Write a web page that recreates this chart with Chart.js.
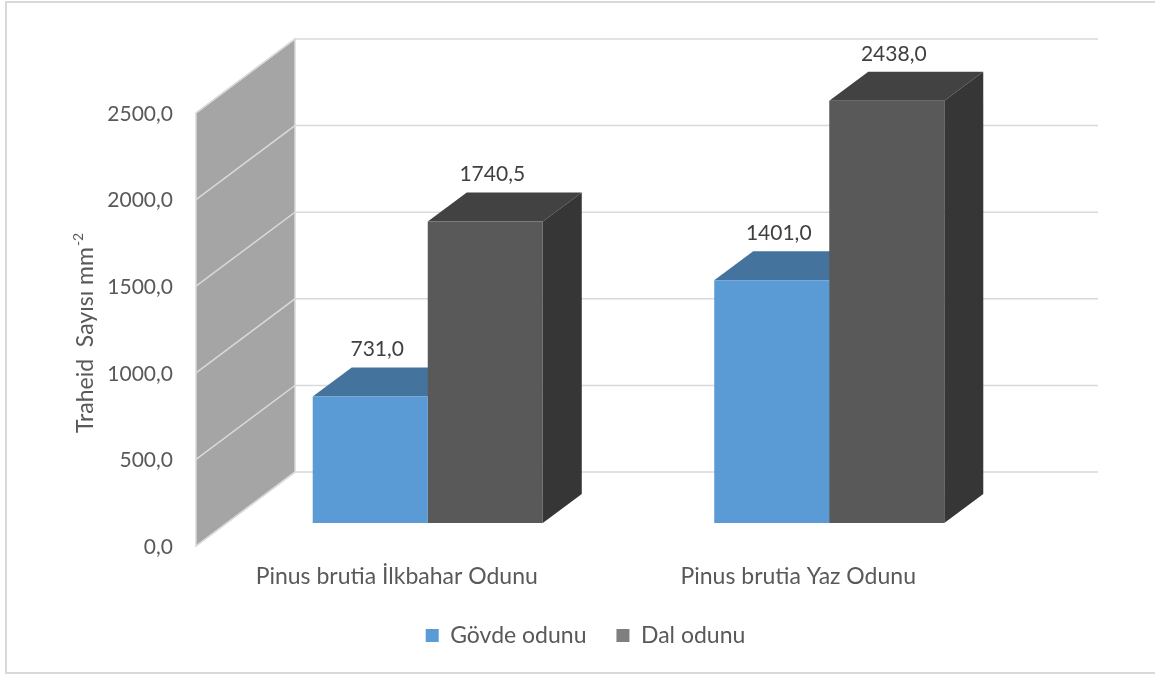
<!DOCTYPE html>
<html>
<head>
<meta charset="utf-8">
<script src="https://cdn.jsdelivr.net/npm/chart.js@4.4.1/dist/chart.umd.min.js"></script>
<style>
html, body { margin: 0; padding: 0; background: #fff; }
#wrap { width: 1155px; height: 677px; }
</style>
</head>
<body>
<div id="wrap"><canvas id="myChart" width="1155" height="677"></canvas></div>
<script>
var categories = ['Pinus brutia İlkbahar Odunu', 'Pinus brutia Yaz Odunu']
var govde_odunu = [731.0, 1401.0]
var dal_odunu = [1740.5, 2438.0]
var yTicks = [0, 500, 1000, 1500, 2000, 2500]
var yTitle = 'Traheid  Sayısı mm'
var yTitleSup = '-2'

// 3d look: offsets from the bar front plane
var barDepth = {dx: 39, dy: -29}
var backWall = {dx: 68, dy: -51}
var frontWall = {dx: -31, dy: 23}

var faceColors = [
    {front: '#5b9bd5', top: '#44739e', side: '#3e6a93'},
    {front: '#595959', top: '#424242', side: '#363636'}
]
var legendColors = ['#5b9bd5', '#7f7f7f']

function fmt(v){
    return v.toFixed(1).replace('.', ',')
}

Chart.defaults.font.family = 'Lato'
Chart.defaults.color = '#595959'

var threeD = {
    id: 'threeD',
    beforeDraw: function(chart){
        var ctx = chart.ctx
        ctx.save()
        ctx.strokeStyle = '#d9d9d9'
        ctx.lineWidth = 2
        ctx.strokeRect(6, 2, 1152, 671)
        ctx.restore()
    },
    beforeDatasetsDraw: function(chart){
        var ctx = chart.ctx
        var area = chart.chartArea
        var y = chart.scales.y
        var y0 = y.getPixelForValue(y.min)
        var y1 = y.getPixelForValue(y.max)
        ctx.save()
        // side wall
        ctx.fillStyle = '#a5a5a5'
        ctx.beginPath()
        ctx.moveTo(area.left + frontWall.dx, y0 + frontWall.dy)
        ctx.lineTo(area.left + frontWall.dx, y1 + frontWall.dy)
        ctx.lineTo(area.left + backWall.dx, y1 + backWall.dy)
        ctx.lineTo(area.left + backWall.dx, y0 + backWall.dy)
        ctx.closePath()
        ctx.fill()
        ctx.strokeStyle = '#d9d9d9'
        ctx.lineWidth = 1.5
        ctx.stroke()
        // grid lines on wall and back
        yTicks.forEach(function(v){
            var py = y.getPixelForValue(v)
            ctx.beginPath()
            ctx.moveTo(area.left + frontWall.dx, py + frontWall.dy)
            ctx.lineTo(area.left + backWall.dx, py + backWall.dy)
            ctx.lineTo(area.right + backWall.dx, py + backWall.dy)
            ctx.stroke()
        })
        // top and side faces of bars
        chart.data.datasets.forEach(function(ds, di){
            var meta = chart.getDatasetMeta(di)
            meta.data.forEach(function(el){
                var p = el.getProps(['x', 'y', 'base', 'width'], true)
                var xl = p.x - p.width / 2
                var xr = p.x + p.width / 2
                ctx.fillStyle = faceColors[di].top
                ctx.beginPath()
                ctx.moveTo(xl, p.y)
                ctx.lineTo(xl + barDepth.dx, p.y + barDepth.dy)
                ctx.lineTo(xr + barDepth.dx, p.y + barDepth.dy)
                ctx.lineTo(xr, p.y)
                ctx.closePath()
                ctx.fill()
                ctx.fillStyle = faceColors[di].side
                ctx.beginPath()
                ctx.moveTo(xr, p.y)
                ctx.lineTo(xr + barDepth.dx, p.y + barDepth.dy)
                ctx.lineTo(xr + barDepth.dx, p.base + barDepth.dy)
                ctx.lineTo(xr, p.base)
                ctx.closePath()
                ctx.fill()
            })
        })
        ctx.restore()
    },
    afterDatasetsDraw: function(chart){
        var ctx = chart.ctx
        ctx.save()
        ctx.font = '21px Lato'
        ctx.fillStyle = '#404040'
        ctx.textAlign = 'center'
        ctx.textBaseline = 'middle'
        chart.data.datasets.forEach(function(ds, di){
            var meta = chart.getDatasetMeta(di)
            meta.data.forEach(function(el, i){
                var p = el.getProps(['x', 'y'], true)
                ctx.fillText(fmt(ds.data[i]), p.x + 7, p.y - 47)
            })
        })
        ctx.restore()
    },
    afterDraw: function(chart){
        var ctx = chart.ctx
        ctx.save()
        ctx.translate(86, 433)
        ctx.rotate(-Math.PI / 2)
        ctx.fillStyle = '#595959'
        ctx.textBaseline = 'middle'
        ctx.textAlign = 'left'
        ctx.font = '23px Lato'
        ctx.fillText(yTitle, 0, 0)
        var w = ctx.measureText(yTitle).width
        ctx.font = '14px Lato'
        ctx.fillText(yTitleSup, w + 1, -8)
        ctx.restore()
    }
}

var ctx = document.getElementById('myChart').getContext('2d')
var myChart = new Chart(ctx, {
    type: 'bar',
    data: {
        labels: categories,
        datasets: [{
            label: 'Gövde odunu',
            data: govde_odunu,
            backgroundColor: faceColors[0].front,
            yAxisID: 'y'
        }, {
            label: 'Dal odunu',
            data: dal_odunu,
            backgroundColor: faceColors[1].front,
            yAxisID: 'y'
        }]
    },
    options: {
        responsive: false,
        animation: false,
        events: [],
        categoryPercentage: 0.573,
        barPercentage: 1.0,
        layout: {
            padding: {left: 16, right: 0, top: 90, bottom: 20}
        },
        scales: {
            y: {
                position: 'left',
                min: 0,
                max: 2500,
                afterBuildTicks: function(scale){
                    scale.ticks = yTicks.map(function(v){ return {value: v} })
                },
                afterFit: function(scale){ scale.width = 211 },
                grid: {display: false, drawTicks: false},
                border: {display: false},
                ticks: {
                    padding: 54,
                    labelOffset: 24,
                    color: '#595959',
                    font: {size: 21},
                    callback: function(v){ return fmt(v) }
                }
            },
            yR: {
                position: 'right',
                display: true,
                afterFit: function(scale){ scale.width = 125 },
                grid: {display: false, drawTicks: false},
                border: {display: false},
                ticks: {display: false}
            },
            x: {
                afterFit: function(scale){ scale.height = 71 },
                grid: {display: false, drawTicks: false},
                border: {display: false},
                ticks: {
                    padding: 40,
                    labelOffset: -31,
                    color: '#595959',
                    font: {size: 23}
                }
            }
        },
        plugins: {
            tooltip: {enabled: false},
            legend: {
                display: true,
                position: 'bottom',
                labels: {
                    boxWidth: 13,
                    boxHeight: 13,
                    padding: 30,
                    color: '#595959',
                    font: {size: 23},
                    generateLabels: function(chart){
                        var items = Chart.defaults.plugins.legend.labels.generateLabels(chart)
                        items.forEach(function(it, i){
                            it.fillStyle = legendColors[i]
                            it.strokeStyle = legendColors[i]
                            it.lineWidth = 0
                        })
                        return items
                    }
                }
            }
        }
    },
    plugins: [threeD]
})
</script>
</body>
</html>
